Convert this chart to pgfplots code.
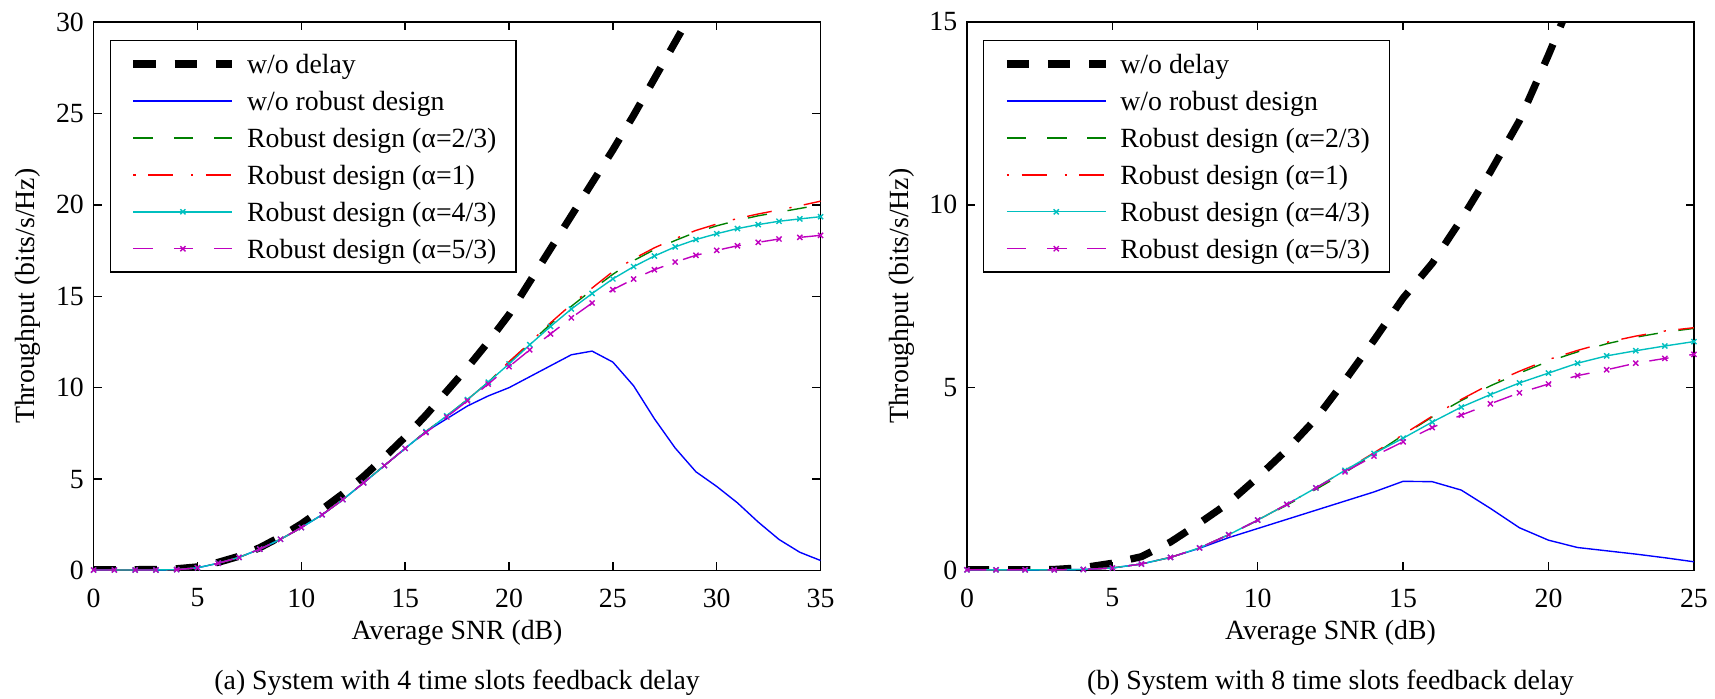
\documentclass[border=0pt]{standalone}
\usepackage{fontspec}
\setmainfont{Liberation Serif}
\usepackage{pgfplots}
\pgfplotsset{compat=1.18}
\definecolor{mblue}{rgb}{0,0,1}
\definecolor{mgreen}{rgb}{0,0.5,0}
\definecolor{mred}{rgb}{1,0,0}
\definecolor{mcyan}{rgb}{0,0.75,0.75}
\definecolor{mmag}{rgb}{0.75,0,0.75}
\pgfplotsset{
  myaxis/.style={
    scale only axis, width=261.7pt, height=197.5pt, anchor=south west,
    xmin=0, ymin=0,
    tick align=inside, xtick pos=both, ytick pos=both,
    xticklabel pos=lower, yticklabel pos=left,
    major tick length=3pt,
    axis line style={line width=0.5pt},
    every tick/.style={black, line width=0.5pt},
    /pgf/number format/assume math mode=true,
    xticklabel style={yshift=-3pt},
    xlabel={Average SNR (dB)},
    ylabel={Throughput (bits/s/Hz)},
    xlabel style={at={(axis description cs:0.5,-0.1139)}, anchor=center},
    ylabel style={at={(axis description cs:-0.0902,0.5)}, anchor=center},
    clip mode=individual,
    legend style={at={(axis description cs:0,1)}, anchor=north west,
      xshift=5.8pt, yshift=-6.5pt, draw=black, line width=0.5pt,
      inner xsep=7pt, inner ysep=3.8pt, row sep=4.1pt, column sep=4pt,
      nodes={inner sep=0pt, text height=8pt, text depth=1.2pt},
      font=\normalsize},
    legend cell align=left,
    legend image code/.code={\draw[mark repeat=2,mark phase=2,#1] plot coordinates {(0pt,0pt) (17.8pt,0pt) (35.6pt,0pt)};},
  },
  sblack/.style={black, line width=2.6pt, dash pattern=on 8pt off 6.8pt},
  sblue/.style={mblue, line width=0.5pt},
  sgreen/.style={mgreen, line width=0.5pt, dash pattern=on 7pt off 7.5pt},
  sred/.style={mred, line width=0.5pt, dash pattern=on 0.8pt off 4.5pt on 9pt off 6.5pt},
  scyan/.style={mcyan, line width=0.5pt, mark=x, mark size=1.3pt, mark options={solid}},
  smag/.style={mmag, line width=0.5pt, dash pattern=on 7pt off 7.5pt, mark=x, mark size=1.3pt, mark options={solid}},
}
\begin{document}
\begin{tikzpicture}
\useasboundingbox (0,0) rectangle (617.4pt,251.3pt);
% ---------------- (a) ----------------
\begin{axis}[myaxis, at={(33.7pt,45.9pt)}, xmax=35, ymax=30,
  xtick={0,5,...,35}, ytick={0,5,...,30}]
\addplot[sblack] coordinates {(0,0.05)(1,0.05)(2,0.05)(3,0.06)(4,0.1)(5,0.2)(6,0.45)(7,0.78)(8,1.25)(9,1.85)(10,2.55)(11,3.35)(12,4.2)(13,5.15)(14,6.2)(15,7.3)(16,8.5)(17,9.8)(18,11.1)(19,12.5)(20,14.0)(21,15.8)(22,17.6)(23,19.4)(24,21.2)(25,23.0)(26,24.9)(27,26.9)(28,28.9)(29,30.9)};
\addlegendentry{w/o delay}
\addplot[sblue] coordinates {(0,0.03)(1,0.03)(2,0.03)(3,0.03)(4,0.05)(5,0.15)(6,0.4)(7,0.72)(8,1.17)(9,1.71)(10,2.35)(11,3.05)(12,3.88)(13,4.8)(14,5.74)(15,6.68)(16,7.6)(17,8.3)(18,9.0)(19,9.55)(20,10.0)(21,10.6)(22,11.2)(23,11.8)(24,12.0)(25,11.4)(26,10.1)(27,8.3)(28,6.7)(29,5.4)(30,4.6)(31,3.7)(32,2.65)(33,1.7)(34,1.0)(35,0.55)};
\addlegendentry{w/o robust design}
\addplot[sgreen] coordinates {(0,0.03)(1,0.03)(2,0.03)(3,0.03)(4,0.05)(5,0.15)(6,0.4)(7,0.72)(8,1.17)(9,1.71)(10,2.35)(11,3.05)(12,3.88)(13,4.8)(14,5.74)(15,6.68)(16,7.6)(17,8.46)(18,9.35)(19,10.3)(20,11.4)(21,12.42)(22,13.48)(23,14.45)(24,15.35)(25,16.2)(26,16.95)(27,17.55)(28,18.05)(29,18.5)(30,18.85)(31,19.15)(32,19.4)(33,19.6)(34,19.8)(35,20.0)};
\addlegendentry{Robust design (α=2/3)}
\addplot[sred] coordinates {(0,0.03)(1,0.03)(2,0.03)(3,0.03)(4,0.05)(5,0.15)(6,0.4)(7,0.72)(8,1.17)(9,1.71)(10,2.35)(11,3.05)(12,3.88)(13,4.8)(14,5.74)(15,6.68)(16,7.6)(17,8.46)(18,9.35)(19,10.3)(20,11.42)(21,12.45)(22,13.55)(23,14.55)(24,15.45)(25,16.35)(26,17.05)(27,17.65)(28,18.15)(29,18.6)(30,18.95)(31,19.25)(32,19.5)(33,19.72)(34,19.95)(35,20.2)};
\addlegendentry{Robust design (α=1)}
\addplot[scyan] coordinates {(0,0.03)(1,0.03)(2,0.03)(3,0.03)(4,0.05)(5,0.15)(6,0.4)(7,0.72)(8,1.17)(9,1.71)(10,2.35)(11,3.05)(12,3.88)(13,4.8)(14,5.74)(15,6.68)(16,7.6)(17,8.46)(18,9.35)(19,10.3)(20,11.3)(21,12.35)(22,13.35)(23,14.3)(24,15.15)(25,15.95)(26,16.62)(27,17.2)(28,17.7)(29,18.1)(30,18.42)(31,18.7)(32,18.92)(33,19.1)(34,19.23)(35,19.35)};
\addlegendentry{Robust design (α=4/3)}
\addplot[smag] coordinates {(0,0.03)(1,0.03)(2,0.03)(3,0.03)(4,0.05)(5,0.15)(6,0.4)(7,0.72)(8,1.17)(9,1.71)(10,2.35)(11,3.05)(12,3.88)(13,4.8)(14,5.74)(15,6.68)(16,7.55)(17,8.4)(18,9.28)(19,10.2)(20,11.15)(21,12.07)(22,12.94)(23,13.82)(24,14.63)(25,15.36)(26,15.94)(27,16.45)(28,16.87)(29,17.24)(30,17.51)(31,17.76)(32,17.95)(33,18.13)(34,18.22)(35,18.33)};
\addlegendentry{Robust design (α=5/3)}
\node at (axis description cs:0.5,-0.2051) {(a) System with 4 time slots feedback delay};
\end{axis}
% ---------------- (b) ----------------
\begin{axis}[myaxis, at={(348.1pt,45.9pt)}, xmax=25, ymax=15,
  xtick={0,5,...,25}, ytick={0,5,10,15}]
\addplot[sblack] coordinates {(0,0.02)(1,0.02)(2,0.02)(3,0.03)(4,0.08)(5,0.2)(6,0.38)(7,0.78)(8,1.3)(9,1.85)(10,2.55)(11,3.3)(12,4.15)(13,5.2)(14,6.3)(15,7.45)(16,8.4)(17,9.6)(18,10.9)(19,12.3)(20,14.1)(21,16.0)};
\addlegendentry{w/o delay}
\addplot[sblue] coordinates {(0,0.02)(1,0.02)(2,0.02)(3,0.02)(4,0.03)(5,0.07)(6,0.18)(7,0.36)(8,0.61)(9,0.9)(10,1.15)(11,1.4)(12,1.65)(13,1.9)(14,2.15)(15,2.44)(16,2.43)(17,2.2)(18,1.7)(19,1.17)(20,0.83)(21,0.63)(22,0.54)(23,0.45)(24,0.35)(25,0.24)};
\addlegendentry{w/o robust design}
\addplot[sgreen] coordinates {(0,0.02)(1,0.02)(2,0.02)(3,0.02)(4,0.03)(5,0.07)(6,0.18)(7,0.36)(8,0.62)(9,0.98)(10,1.37)(11,1.79)(12,2.22)(13,2.68)(14,3.18)(15,3.7)(16,4.2)(17,4.65)(18,5.05)(19,5.4)(20,5.72)(21,5.98)(22,6.2)(23,6.38)(24,6.52)(25,6.62)};
\addlegendentry{Robust design (α=2/3)}
\addplot[sred] coordinates {(0,0.02)(1,0.02)(2,0.02)(3,0.02)(4,0.03)(5,0.07)(6,0.18)(7,0.36)(8,0.62)(9,0.98)(10,1.38)(11,1.81)(12,2.26)(13,2.74)(14,3.22)(15,3.72)(16,4.22)(17,4.68)(18,5.1)(19,5.45)(20,5.77)(21,6.02)(22,6.24)(23,6.41)(24,6.55)(25,6.64)};
\addlegendentry{Robust design (α=1)}
\addplot[scyan] coordinates {(0,0.02)(1,0.02)(2,0.02)(3,0.02)(4,0.03)(5,0.07)(6,0.18)(7,0.36)(8,0.62)(9,0.98)(10,1.38)(11,1.81)(12,2.26)(13,2.74)(14,3.2)(15,3.62)(16,4.06)(17,4.47)(18,4.81)(19,5.13)(20,5.4)(21,5.67)(22,5.87)(23,6.01)(24,6.14)(25,6.26)};
\addlegendentry{Robust design (α=4/3)}
\addplot[smag] coordinates {(0,0.02)(1,0.02)(2,0.02)(3,0.02)(4,0.03)(5,0.07)(6,0.18)(7,0.36)(8,0.62)(9,0.98)(10,1.38)(11,1.81)(12,2.26)(13,2.7)(14,3.13)(15,3.52)(16,3.91)(17,4.25)(18,4.56)(19,4.86)(20,5.1)(21,5.33)(22,5.49)(23,5.67)(24,5.8)(25,5.91)};
\addlegendentry{Robust design (α=5/3)}
\node at (axis description cs:0.5,-0.2051) {(b) System with 8 time slots feedback delay};
\end{axis}
\end{tikzpicture}
\end{document}
